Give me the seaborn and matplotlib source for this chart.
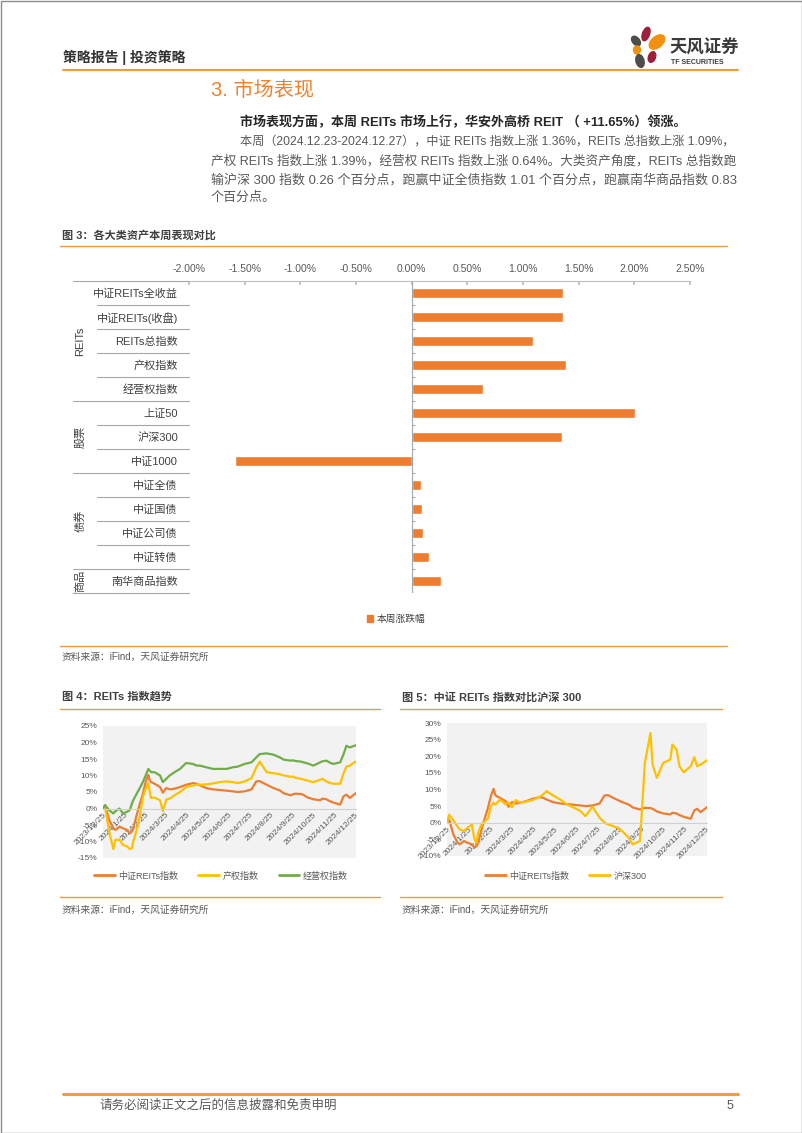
import numpy as np
import pandas as pd
import matplotlib.pyplot as plt
import matplotlib.transforms as mtransforms
from matplotlib.patches import Ellipse, Patch, Rectangle
import seaborn as sns

sns.set_theme(style='white')
plt.rcParams['font.family'] = ['Liberation Sans', 'Noto Sans CJK SC']
plt.rcParams['axes.unicode_minus'] = False

# fig 3: weekly change by asset class (%)
assets = ['中证REITs全收益', '中证REITs(收盘)', 'REITs总指数', '产权指数', '经营权指数',
          '上证50', '沪深300', '中证1000',
          '中证全债', '中证国债', '中证公司债', '中证转债',
          '南华商品指数']
weekly_chg = [1.36, 1.36, 1.09, 1.39, 0.64,
              2.01, 1.35, -1.59,
              0.08, 0.09, 0.10, 0.16,
              0.26]
asset_groups = ['REITs', '股票', '债券', '商品']
group_sizes = [5, 3, 4, 1]
pct_ticks = [-2.0, -1.5, -1.0, -0.5, 0.0, 0.5, 1.0, 1.5, 2.0, 2.5]

# fig 4 / fig 5: cumulative return since 2023-12-25 (%)
dates = ['2023-12-25', '2023-12-28', '2024-01-03', '2024-01-09', '2024-01-12', '2024-01-18',
         '2024-01-23', '2024-01-29', '2024-02-02', '2024-02-05', '2024-02-07', '2024-02-12',
         '2024-02-16', '2024-02-21', '2024-02-25', '2024-02-29', '2024-03-02', '2024-03-04',
         '2024-03-09', '2024-03-17', '2024-03-21', '2024-03-26', '2024-03-31', '2024-04-07',
         '2024-04-15', '2024-04-24', '2024-05-04', '2024-05-09', '2024-05-14', '2024-05-23',
         '2024-06-02', '2024-06-12', '2024-06-22', '2024-07-01', '2024-07-08', '2024-07-18',
         '2024-07-28', '2024-08-04', '2024-08-09', '2024-08-19', '2024-08-29', '2024-09-07',
         '2024-09-13', '2024-09-23', '2024-09-26', '2024-09-30', '2024-10-08', '2024-10-11',
         '2024-10-17', '2024-10-26', '2024-11-05', '2024-11-08', '2024-11-14', '2024-11-18',
         '2024-11-24', '2024-12-04', '2024-12-09', '2024-12-13', '2024-12-18', '2024-12-27']
reits_idx = [0, 1.0, -3.5, -6, -6.5, -5.5, -6, -6.5, -7.5, -7, -6, -2,
             1, 4.5, 8, 10.2, 8.5, 8, 7.5, 6.5, 4.8, 6.2, 5.8, 6,
             6.5, 7.2, 7.7, 7.5, 7, 6.2, 5.8, 5.6, 5.4, 5.2, 5, 5.2,
             5.8, 8.2, 8.3, 7.2, 6.2, 5.5, 4.6, 4, 4.3, 4.5, 4.4, 4.2,
             3.4, 2.8, 2.5, 3, 2.8, 2.3, 1.8, 1.2, 3.7, 4.2, 3.2, 4.7]
cq_idx = [0, 0.5, -7, -12.3, -9.5, -9.5, -11, -11.5, -12.3, -12, -10, -6.5,
          -3, 3.5, 6, 7.7, 5, 3.2, 3.3, 2.5, -0.8, 2.7, 3, 4,
          5, 6.5, 7, 7.2, 7.2, 7.3, 7.6, 8, 8.2, 8, 7.7, 8.2,
          9.2, 12.5, 14.2, 11, 10.7, 10.4, 10, 9.6, 9.7, 9.3, 9, 8.8,
          8.5, 8, 8.7, 9, 8.2, 7.8, 7.5, 7.5, 10.7, 12.7, 13, 14.3]
jyq_idx = [0, 1.0, -0.5, -1.5, -0.8, 0, -1.5, -1, -0.5, 1.5, 2.5, 4.5,
           6, 8, 10, 12, 11.5, 11, 11, 10, 8, 9, 10, 11,
           12, 13.8, 13.5, 13, 13, 12.5, 12, 12, 12, 12.5, 12.7, 13.5,
           14, 15.5, 16.5, 16.7, 16.3, 15.5, 14.8, 14.5, 14.6, 14.4, 14.2, 14,
           13.7, 13, 14, 14.3, 14.5, 14, 13.5, 14, 16.5, 19, 18.5, 19.2]
hs300 = [0, 2.4, 0.8, -1.2, -2, -2.5, -1.5, -0.6, -5, -6, -3, -0.5,
         0.3, 1.3, 5, 6, 5.5, 5.8, 7, 5.5, 6.2, 4.6, 6.8, 6,
         6.4, 6.8, 7.8, 8.5, 9.5, 8.2, 7, 5.5, 4.5, 3.5, 2, 4.8,
         1.5, 0, -0.5, -1.2, -2.5, -4.5, -6.5, -5.5, 4, 18, 27, 17.5,
         13.5, 18, 19, 23.5, 22, 17, 15.2, 17, 19.7, 17, 17.5, 18.8]
month_ticks = ['2023/12/25', '2024/1/25', '2024/2/25', '2024/3/25', '2024/4/25',
               '2024/5/25', '2024/6/25', '2024/7/25', '2024/8/25', '2024/9/25',
               '2024/10/25', '2024/11/25', '2024/12/25']

ORANGE = '#ED7D31'
YELLOW = '#FFC000'
GREEN = '#70AD47'
LINE_OR = '#F39B36'
TXT = '#404040'
GREY = '#595959'
W, H = 802, 1133


def box(l, t, r, b):
    return [l / W, 1 - b / H, (r - l) / W, (b - t) / H]


fig = plt.figure(figsize=(W / 100, H / 100), dpi=100)
page = fig.add_axes([0, 0, 1, 1])
page.set_xlim(0, W)
page.set_ylim(H, 0)
page.axis('off')
page.add_patch(Rectangle((0.5, 0.5), W - 1, H - 1, fill=False, ec='#8C8C8C', lw=1))

# header
page.text(63, 57, '策略报告 | 投资策略', fontsize=10, fontweight='bold', color='#333333', va='center')
page.plot([63, 738], [69.5, 69.5], color=LINE_OR, lw=1.5)
petals = [(646, 34, 7, 14, 20, '#9E1F3C'), (636, 41, 7, 11, -40, '#4D4D4D'),
          (657, 42, 11, 18, 50, '#F29111'), (637, 50, 7, 8, 0, '#F29111'),
          (640, 61, 8, 13, -15, '#4D4D4D'), (652, 57, 7, 11, 20, '#9E1F3C')]
for cx, cy, w, h, ang, c in petals:
    page.add_patch(Ellipse((cx, cy), w, h, angle=ang, color=c))
page.text(669, 47, '天风证券', fontsize=12.5, fontweight='bold', color='#3A3A3A', va='center')
page.text(671, 62, 'TF SECURITIES', fontsize=5, fontweight='bold', color='#3A3A3A', va='center')

# section text; each line is fitted to its width in the page
page.text(211, 90, '3. 市场表现', fontsize=14.5, color='#EE822F', va='center')
body = [(240, 122, 688, '市场表现方面，本周 REITs 市场上行，华安外高桥 REIT （ +11.65%）领涨。', True),
        (240, 142, 737, '本周（2024.12.23-2024.12.27），中证 REITs 指数上涨 1.36%，REITs 总指数上涨 1.09%，', False),
        (211, 161, 737, '产权 REITs 指数上涨 1.39%，经营权 REITs 指数上涨 0.64%。大类资产角度，REITs 总指数跑', False),
        (211, 180, 737, '输沪深 300 指数 0.26 个百分点，跑赢中证全债指数 1.01 个百分点，跑赢南华商品指数 0.83', False),
        (211, 198, None, '个百分点。', False)]
renderer = fig.canvas.get_renderer()
size = 9
for x, y, right, s, bold in body:
    t = page.text(x, y, s, fontsize=9, va='center', color='#262626' if bold else GREY,
                  fontweight='bold' if bold else 'normal')
    if right is not None:
        width = t.get_window_extent(renderer).width
        size = 9 * (right - x) / width
    t.set_fontsize(size)

# figure 3 frame
page.text(62, 235, '图 3：各大类资产本周表现对比', fontsize=8, fontweight='bold', color=TXT, va='center')
page.plot([60, 727], [246, 246], color=LINE_OR, lw=1)
page.plot([60, 727], [646, 646], color=LINE_OR, lw=1)
page.text(62, 657, '资料来源：iFind，天风证券研究所', fontsize=7, color=GREY, va='center')

ax = fig.add_axes(box(189, 281, 690, 593))
bar_df = pd.DataFrame({'asset': assets, 'chg': weekly_chg})
sns.barplot(data=bar_df, x='chg', y='asset', orient='h', color=ORANGE, saturation=1,
            width=0.42, ax=ax)
ax.set_xlim(pct_ticks[0], pct_ticks[-1])
ax.set_ylim(len(assets) - 0.5, -0.5)
ax.xaxis.tick_top()
ax.set_xticks(pct_ticks)
ax.set_xticklabels([f'{v:.2f}%' for v in pct_ticks])
ax.tick_params(axis='x', direction='in', length=3, pad=5, labelsize=7.5,
               labelcolor=GREY, color='#BFBFBF')
ax.tick_params(axis='y', length=0, pad=8, labelsize=8, labelcolor=TXT)
ax.set_xlabel('')
ax.set_ylabel('')
for side in ['left', 'right', 'bottom']:
    ax.spines[side].set_visible(False)
ax.spines['top'].set_color('#BFBFBF')
ax.spines['top'].set_linewidth(0.8)
ax.axvline(0, color='#A6A6A6', lw=0.8)
ax.hlines(np.arange(len(assets) + 1) - 0.5, 0, 0.03, color='#A6A6A6', lw=0.8)

blend = mtransforms.blended_transform_factory(ax.transAxes, ax.transData)
span = 690 - 189
x_item, x_group, x_glab = (97 - 189) / span, (73 - 189) / span, (80 - 189) / span
bounds = list(np.cumsum([0] + group_sizes))
for k in range(len(assets) + 1):
    x0 = x_group if k in bounds else x_item
    ax.plot([x0, 0], [k - 0.5, k - 0.5], transform=blend, color='#A6A6A6', lw=0.8, clip_on=False)
for g, a, b in zip(asset_groups, bounds[:-1], bounds[1:]):
    ax.text(x_glab, (a + b - 1) / 2, g, transform=blend, rotation=90, ha='center',
            va='center', fontsize=8, color=TXT)
ax.legend(handles=[Patch(color=ORANGE, label='本周涨跌幅')], loc='center',
          bbox_to_anchor=(396 / W, 1 - 619 / H), bbox_transform=fig.transFigure,
          frameon=False, fontsize=7, handlelength=0.6, handleheight=0.6, handletextpad=0.4,
          labelcolor=TXT)

# figures 4 and 5
tick_dates = pd.to_datetime(month_ticks, format='%Y/%m/%d')
when = pd.to_datetime(dates)


def trend_panel(rect, frame, colors, ylim, legend_x):
    axp = fig.add_axes(box(*rect))
    long = frame.melt('date', var_name='series', value_name='ret')
    sns.lineplot(data=long, x='date', y='ret', hue='series', palette=colors,
                 linewidth=1.6, ax=axp)
    axp.set_facecolor('#F2F2F2')
    axp.set_xlim(pd.Timestamp('2023-12-25'), pd.Timestamp('2024-12-27'))
    axp.set_ylim(*ylim)
    yt = list(range(ylim[0], ylim[1] + 1, 5))
    axp.set_yticks(yt)
    axp.set_yticklabels([f'{v}%' for v in yt])
    axp.set_xticks(tick_dates)
    axp.set_xticklabels(month_ticks)
    axp.tick_params(axis='both', length=0, labelsize=6, labelcolor=GREY)
    axp.tick_params(axis='x', pad=2, labelrotation=45)
    axp.tick_params(axis='y', pad=4)
    axp.set_xlabel('')
    axp.set_ylabel('')
    for side in ['left', 'right', 'top']:
        axp.spines[side].set_visible(False)
    axp.spines['bottom'].set_position(('data', 0))
    axp.spines['bottom'].set_color('#D0D0D0')
    axp.spines['bottom'].set_linewidth(0.8)
    leg = axp.get_legend()
    handles = leg.legend_handles
    labels = [t.get_text() for t in leg.get_texts()]
    for h in handles:
        h.set_linewidth(2)
    axp.legend(handles, labels, loc='center', bbox_to_anchor=(legend_x / W, 1 - 876 / H),
               bbox_transform=fig.transFigure, ncol=len(labels), frameon=False,
               fontsize=6.5, handlelength=2.3, columnspacing=2.2, handletextpad=0.4,
               labelcolor=GREY)
    plt.setp(axp.get_xticklabels(), rotation=45, ha='right', rotation_mode='anchor')
    return axp


page.text(62, 697, '图 4：REITs 指数趋势', fontsize=8, fontweight='bold', color=TXT, va='center')
page.plot([60, 380], [709, 709], color=LINE_OR, lw=1)
page.plot([60, 380], [897, 897], color=LINE_OR, lw=1)
page.text(62, 910, '资料来源：iFind，天风证券研究所', fontsize=7, color=GREY, va='center')
trend4 = pd.DataFrame({'date': when, '中证REITs指数': reits_idx, '产权指数': cq_idx,
                       '经营权指数': jyq_idx})
trend_panel((103, 726, 356, 858), trend4, [ORANGE, YELLOW, GREEN], (-15, 25), 221)

page.text(402, 697, '图 5：中证 REITs 指数对比沪深 300', fontsize=8, fontweight='bold',
          color=TXT, va='center')
page.plot([400, 722], [709, 709], color=LINE_OR, lw=1)
page.plot([400, 722], [897, 897], color=LINE_OR, lw=1)
page.text(402, 910, '资料来源：iFind，天风证券研究所', fontsize=7, color=GREY, va='center')
trend5 = pd.DataFrame({'date': when, '中证REITs指数': reits_idx, '沪深300': hs300})
trend_panel((447, 723, 707, 856), trend5, [ORANGE, YELLOW], (-10, 30), 566)

# footer
page.plot([63, 738], [1094, 1094], color='#E8A33D', lw=2.2)
page.text(100, 1106, '请务必阅读正文之后的信息披露和免责申明', fontsize=9, color=GREY, va='center')
page.text(733, 1106, '5', fontsize=9, color=GREY, va='center', ha='right')

fig.savefig('out.png', dpi=100)
